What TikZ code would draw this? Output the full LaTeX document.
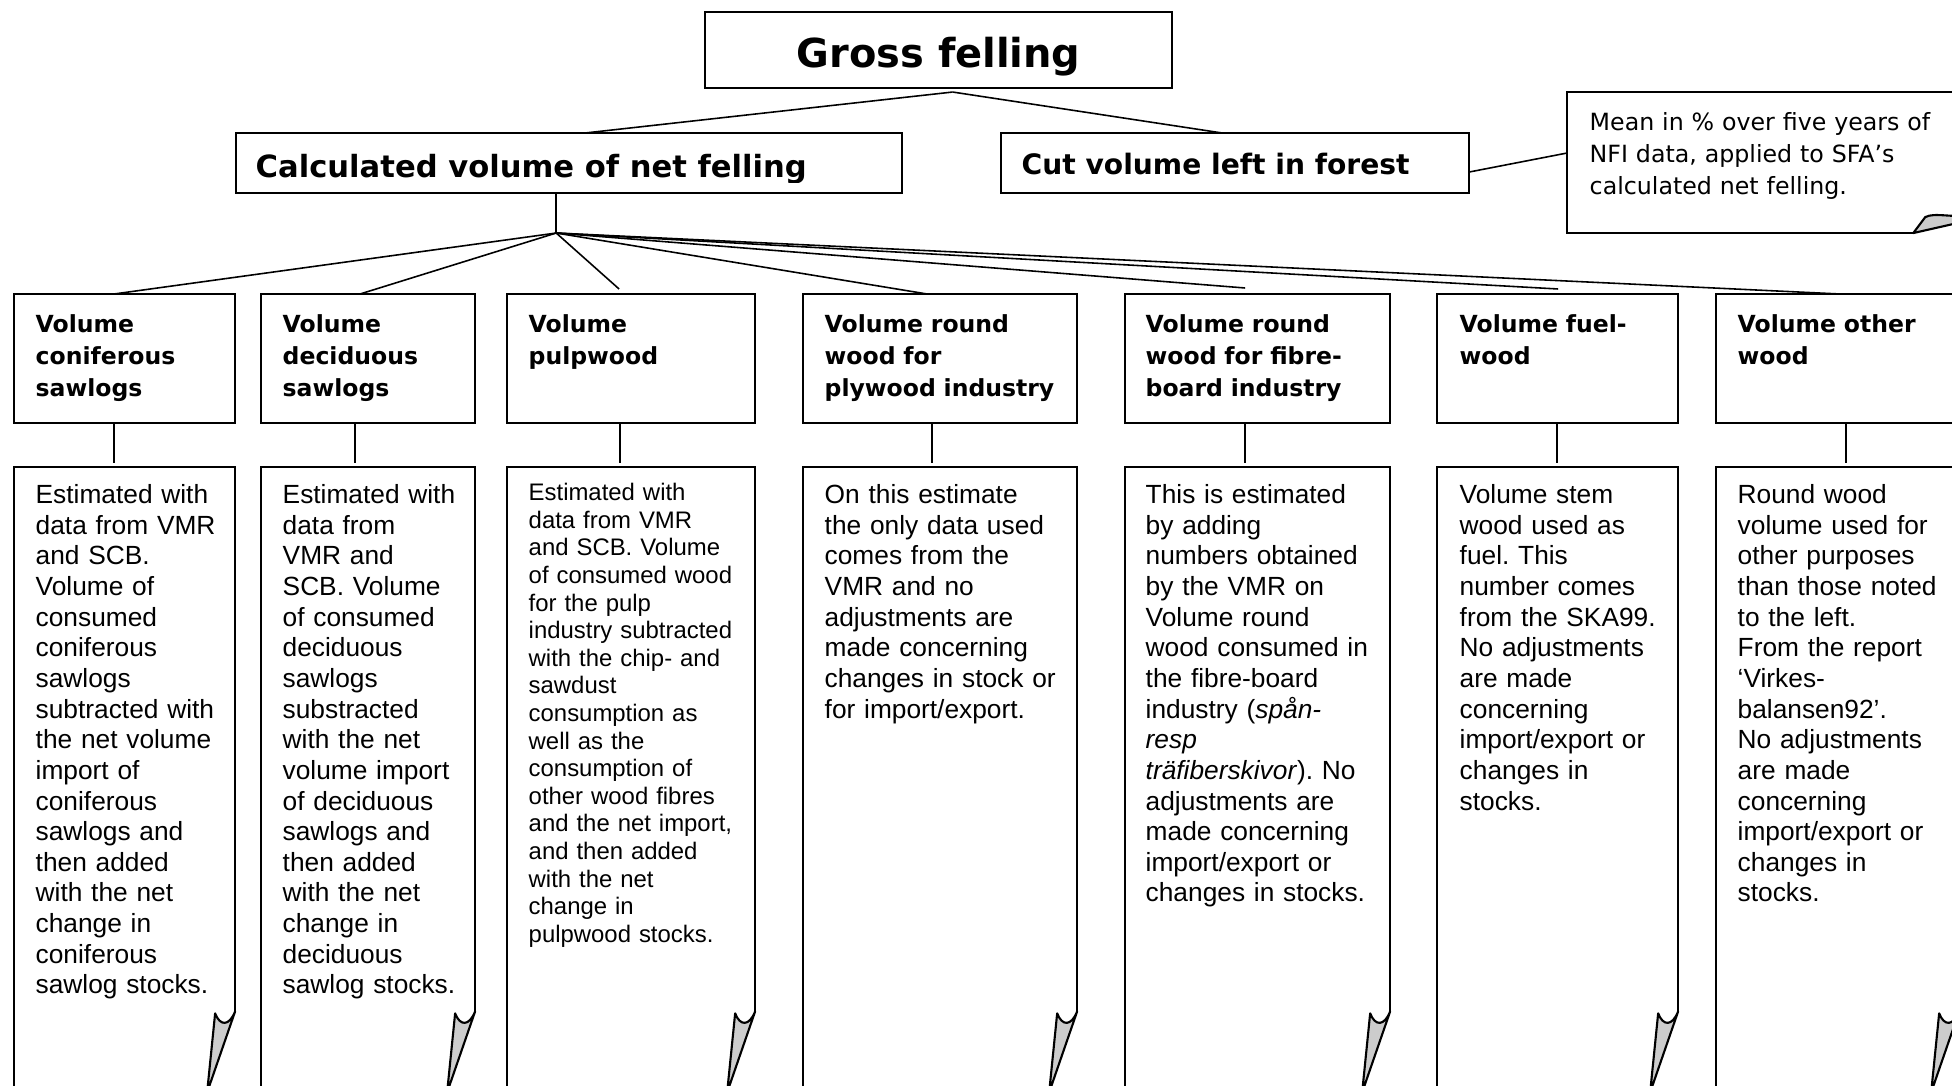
\documentclass[tikz,border=0pt]{standalone}
\usepackage{fontspec}
\setmainfont{Liberation Sans}
\newfontfamily\verdana{DejaVu Sans}
\frenchspacing

% sheet outline with the curled lower right corner
\newcommand{\foldcorner}[1]{%
  \draw[frame] (#1.south west) -- (#1.north west) -- (#1.north east) -- ([shift={(0,-81)}]#1.south east);
  \filldraw[curl] ([shift={(0,-81)}]#1.south east) -- ([shift={(-28,0)}]#1.south east)
    -- ([shift={(-20,-79)}]#1.south east)
    .. controls ([shift={(-15,-66)}]#1.south east) and ([shift={(-6,-66)}]#1.south east)
    .. ([shift={(0,-81)}]#1.south east) -- cycle;}

\begin{document}
\begin{tikzpicture}[x=0.01cm,y=-0.01cm,
    frame/.style={line width=0.6pt},
    wire/.style={line width=0.45pt},
    curl/.style={line width=0.6pt,fill=black!20,line join=round},
    box/.style={draw,line width=0.6pt,inner sep=0pt,outer sep=0pt,anchor=north west},
    sheet/.style={inner sep=0pt,outer sep=0pt,anchor=north west,minimum height=6.25cm},
    boxtext/.style={anchor=north west,inner sep=0pt,text width=4.2cm,align=left,
        execute at begin node={\noindent\rule{0pt}{#1}}},
    coltitle/.style={boxtext=3.8mm,font=\verdana\bfseries\fontsize{6.69pt}{9.02pt}\selectfont},
    notetext/.style={boxtext=3.8mm,font=\verdana\fontsize{6.74pt}{9.05pt}\selectfont},
    desctext/.style={boxtext=3.6mm,font=\fontsize{7.48pt}{8.71pt}\selectfont},
    smalltext/.style={boxtext=3.3mm,font=\fontsize{6.8pt}{7.85pt}\selectfont}]
  \useasboundingbox (0,0) rectangle (1952,1086);
  \fill[white] (0,0) rectangle (1952,1086);
  \clip (0,0) rectangle (1952,1086);

  % upper part
  \node[box,minimum width=4.67cm,minimum height=0.76cm] (gross) at (705,12) {};
  \node[anchor=base,inner sep=0pt,font=\verdana\bfseries\fontsize{11.35pt}{13pt}\selectfont]
    at ([shift={(0,-21)}]gross.south) {Gross felling};
  \node[box,minimum width=6.66cm,minimum height=0.60cm] (net) at (236,133) {};
  \begin{scope}
    \clip (net.north west) rectangle ([shift={(0,-11)}]net.south east);
    \node[anchor=base west,inner sep=0pt,font=\verdana\bfseries\fontsize{8.7pt}{10pt}\selectfont]
      at ([shift={(19,-16)}]net.south west) {Calculated volume of net felling};
  \end{scope}
  \node[box,minimum width=4.68cm,minimum height=0.60cm] (cut) at (1001,133) {};
  \node[anchor=base west,inner sep=0pt,font=\verdana\bfseries\fontsize{8.0pt}{10pt}\selectfont]
    at ([shift={(20,-19)}]cut.south west) {Cut volume left in forest};
  \node[sheet,minimum width=4.21cm,minimum height=1.41cm] (note) at (1567,92) {};
  \node[notetext] at ([shift={(22,0)}]note.north west)
    {Mean in \% over five years of\\NFI data, applied to SFA’s\\calculated net felling.};
  \draw[frame] (note.north east) -- (note.north west) -- (note.south west) -- ([shift={(-75,0)}]note.south east);
  \filldraw[curl] ([shift={(-75,0)}]note.south east) -- ([shift={(-63,-16)}]note.south east)
    .. controls ([shift={(-53,-21)}]note.south east) and ([shift={(-38,-15)}]note.south east)
    .. ([shift={(0,-17)}]note.south east) -- cycle;

  \coordinate (gsplit) at ([shift={(14,4)}]gross.south);
  \draw[wire] (gsplit) -- ([shift={(16,0)}]net.north);
  \draw[wire] (gsplit) -- ([shift={(-13,0)}]cut.north);
  \draw[wire] ([shift={(0,9)}]cut.east) -- ([shift={(0,-9.5)}]note.west);
  \coordinate (nsplit) at ([shift={(-13,40)}]net.south);
  \draw[wire] ([shift={(-13,0)}]net.south) -- (nsplit);

  % column 1
  \node[box,minimum width=2.21cm,minimum height=1.29cm] (t1) at (14,294) {};
  \node[coltitle] at ([shift={(21,0)}]t1.north west) {Volume\\coniferous\\sawlogs};
  \node[sheet,minimum width=2.21cm] (d1) at (14,467) {};
  \node[desctext] at ([shift={(21,0)}]d1.north west) {Estimated with\\data from VMR\\and SCB.\\Volume of\\consumed\\coniferous\\sawlogs\\subtracted with\\the net volume\\import of\\coniferous\\sawlogs and\\then added\\with the net\\change in\\coniferous\\sawlog stocks.};
  \foldcorner{d1}
  \draw[wire] (nsplit) -- ([shift={(-10.5,0)}]t1.north);
  \draw[wire] ([shift={(-10.5,0)}]t1.south) -- ([shift={(-10.5,-4)}]d1.north);

  % column 2
  \node[box,minimum width=2.14cm,minimum height=1.29cm] (t2) at (261,294) {};
  \node[coltitle] at ([shift={(21,0)}]t2.north west) {Volume\\deciduous\\sawlogs};
  \node[sheet,minimum width=2.14cm] (d2) at (261,467) {};
  \node[desctext] at ([shift={(21,0)}]d2.north west) {Estimated with\\data from\\VMR and\\SCB. Volume\\of consumed\\deciduous\\sawlogs\\substracted\\with the net\\volume import\\of deciduous\\sawlogs and\\then added\\with the net\\change in\\deciduous\\sawlog stocks.};
  \foldcorner{d2}
  \draw[wire] (nsplit) -- ([shift={(-8,0)}]t2.north);
  \draw[wire] ([shift={(-13,0)}]t2.south) -- ([shift={(-13,-4)}]d2.north);

  % column 3
  \node[box,minimum width=2.48cm,minimum height=1.29cm] (t3) at (507,294) {};
  \node[coltitle] at ([shift={(21,0)}]t3.north west) {Volume\\pulpwood};
  \node[sheet,minimum width=2.48cm] (d3) at (507,467) {};
  \node[smalltext] at ([shift={(21,0)}]d3.north west) {Estimated with\\data from VMR\\and SCB. Volume\\of consumed wood\\for the pulp\\industry subtracted\\with the chip- and\\sawdust\\consumption as\\well as the\\consumption of\\other wood fibres\\and the net import,\\and then added\\with the net\\change in\\pulpwood stocks.};
  \foldcorner{d3}
  \draw[wire] (nsplit) -- ([shift={(-12,-5)}]t3.north);
  \draw[wire] ([shift={(-11,0)}]t3.south) -- ([shift={(-11,-4)}]d3.north);

  % column 4
  \node[box,minimum width=2.74cm,minimum height=1.29cm] (t4) at (803,294) {};
  \node[coltitle] at ([shift={(21,0)}]t4.north west) {Volume round\\wood for\\plywood industry};
  \node[sheet,minimum width=2.74cm] (d4) at (803,467) {};
  \node[desctext] at ([shift={(21,0)}]d4.north west) {On this estimate\\the only data used\\comes from the\\VMR and no\\adjustments are\\made concerning\\changes in stock or\\for import/export.};
  \foldcorner{d4}
  \draw[wire] (nsplit) -- ([shift={(-13,0)}]t4.north);
  \draw[wire] ([shift={(-8,0)}]t4.south) -- ([shift={(-8,-4)}]d4.north);

  % column 5
  \node[box,minimum width=2.65cm,minimum height=1.29cm] (t5) at (1125,294) {};
  \node[coltitle] at ([shift={(20,0)}]t5.north west) {Volume round\\wood for fibre-\\board industry};
  \node[sheet,minimum width=2.65cm] (d5) at (1125,467) {};
  \node[desctext] at ([shift={(20,0)}]d5.north west) {This is estimated\\by adding\\numbers obtained\\by the VMR on\\Volume round\\wood consumed in\\the fibre-board\\industry (\textit{spån-}\\\textit{resp}\\\textit{träfiberskivor}). No\\adjustments are\\made concerning\\import/export or\\changes in stocks.};
  \foldcorner{d5}
  \draw[wire] (nsplit) -- ([shift={(-12.5,-6)}]t5.north);
  \draw[wire] ([shift={(-12.5,0)}]t5.south) -- ([shift={(-12.5,-4)}]d5.north);

  % column 6
  \node[box,minimum width=2.41cm,minimum height=1.29cm] (t6) at (1437,294) {};
  \node[coltitle] at ([shift={(22,0)}]t6.north west) {Volume fuel-\\wood};
  \node[sheet,minimum width=2.41cm] (d6) at (1437,467) {};
  \node[desctext] at ([shift={(22,0)}]d6.north west) {Volume stem\\wood used as\\fuel. This\\number comes\\from the SKA99.\\No adjustments\\are made\\concerning\\import/export or\\changes in\\stocks.};
  \foldcorner{d6}
  \draw[wire] (nsplit) -- ([shift={(0.5,-5)}]t6.north);
  \draw[wire] ([shift={(-0.5,0)}]t6.south) -- ([shift={(-0.5,-4)}]d6.north);

  % column 7
  \node[box,minimum width=2.43cm,minimum height=1.29cm] (t7) at (1716,294) {};
  \node[coltitle] at ([shift={(21,0)}]t7.north west) {Volume other\\wood};
  \node[sheet,minimum width=2.43cm] (d7) at (1716,467) {};
  \node[desctext] at ([shift={(21,0)}]d7.north west) {Round wood\\volume used for\\other purposes\\than those noted\\to the left.\\From the report\\‘Virkes-\\balansen92’.\\No adjustments\\are made\\concerning\\import/export or\\changes in\\stocks.};
  \foldcorner{d7}
  \draw[wire] (nsplit) -- ([shift={(2.5,0)}]t7.north);
  \draw[wire] ([shift={(8.5,0)}]t7.south) -- ([shift={(8.5,-4)}]d7.north);
\end{tikzpicture}
\end{document}
